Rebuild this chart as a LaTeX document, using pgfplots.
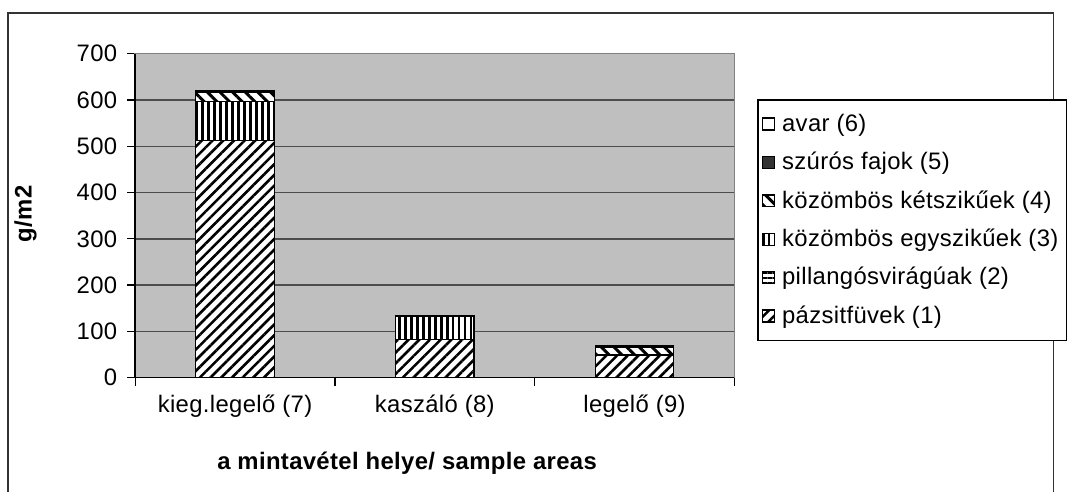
\documentclass[border=0pt]{standalone}
\usepackage{fontspec}
\setmainfont{Liberation Sans}
\usepackage{pgfplots}
\pgfplotsset{compat=1.18}
\usetikzlibrary{patterns.meta}

\newcommand{\chartfont}{\fontsize{12}{14}\selectfont\addfontfeatures{LetterSpace=1.5}}

\pgfplotsset{
  barbase/.style={draw=black, line width=0.7pt, fill=white},
  pazsit/.style={barbase, postaction={pattern={Lines[angle=45,distance=3.8pt,line width=1.3pt]}}},
  pillang/.style={barbase, postaction={pattern={Lines[angle=0,distance=2.5pt,line width=0.9pt]}}},
  egyszik/.style={barbase, postaction={pattern={Lines[angle=90,distance=3pt,line width=1.3pt]}}},
  ketszik/.style={barbase, postaction={pattern={Lines[angle=-45,distance=4.5pt,line width=1.5pt]}}},
  szuros/.style={draw=black, line width=0.7pt, fill=black!80},
  avar/.style={draw=black, line width=0.7pt, fill=white},
}

\begin{document}
\begin{tikzpicture}
  % outer frame, bottom edge falls outside the picture
  \begin{scope}[x=0.5pt,y=-0.5pt]
    \useasboundingbox (0,0) rectangle (1067,495);
    \clip (0,0) rectangle (1067,495);
    \draw[black!80, line width=0.8pt] (8,13) rectangle (1060,530);
  \end{scope}

  \begin{axis}[
      at={(68pt,-190pt)}, anchor=south west,
      scale only axis,
      width=301.5pt, height=163pt,
      font=\chartfont,
      ybar stacked,
      bar width=39.5pt,
      xmin=-0.5, xmax=2.5,
      ymin=0, ymax=700,
      xtick={0,1,2},
      xticklabels={kieg.legelő (7), kaszáló (8), legelő (9)},
      major x tick style={draw=none},
      minor xtick={-0.5,0.5,1.5,2.5},
      ytick={0,100,...,700},
      xtick pos=bottom, ytick pos=left,
      tick align=outside,
      major tick length=4pt, minor tick length=4pt,
      tick style={black, line width=0.6pt},
      ticklabel style={font=\chartfont},
      /pgf/number format/assume math mode=true,
      yticklabel style={xshift=-1.5pt},
      xticklabel style={yshift=-1pt},
      ymajorgrids,
      grid style={black!70, line width=0.7pt},
      axis background/.style={fill=black!25},
      axis line style={draw=black!50, line width=0.8pt},
      xlabel={\textbf{a mintavétel helye/ sample areas}},
      ylabel={\textbf{g/m2}},
      x label style={at={(axis description cs:0.454,-0.264)}, anchor=center},
      y label style={at={(axis description cs:-0.183,0.506)}, anchor=center},
      reverse legend,
      legend cell align=left,
      legend image code/.code={\draw[#1] (0pt,-3pt) rectangle (6pt,3pt);},
      legend style={
        at={(1.038,0.859)}, anchor=north west,
        draw=black, line width=0.7pt, fill=white,
        font=\chartfont,
        row sep=5pt, column sep=1.5pt, inner xsep=2pt, inner ysep=5pt,
        nodes={inner xsep=2pt},
      },
      after end axis/.code={
        \draw[black, line width=0.8pt] (rel axis cs:0,1) -- (rel axis cs:0,0) -- (rel axis cs:1,0);
      },
    ]

    \addplot[pazsit]  coordinates {(0,513) (1,82) (2,49)};
    \addplot[pillang] coordinates {(0,0) (1,0) (2,0)};
    \addplot[egyszik] coordinates {(0,84) (1,50) (2,0)};
    \addplot[ketszik] coordinates {(0,19) (1,0) (2,17)};
    \addplot[szuros]  coordinates {(0,3) (1,2) (2,4)};
    \addplot[avar]    coordinates {(0,0) (1,0) (2,0)};

    \legend{pázsitfüvek (1), pillangósvirágúak (2), közömbös egyszikűek (3),
            közömbös kétszikűek (4), szúrós fajok (5), avar (6)}
  \end{axis}
\end{tikzpicture}
\end{document}
